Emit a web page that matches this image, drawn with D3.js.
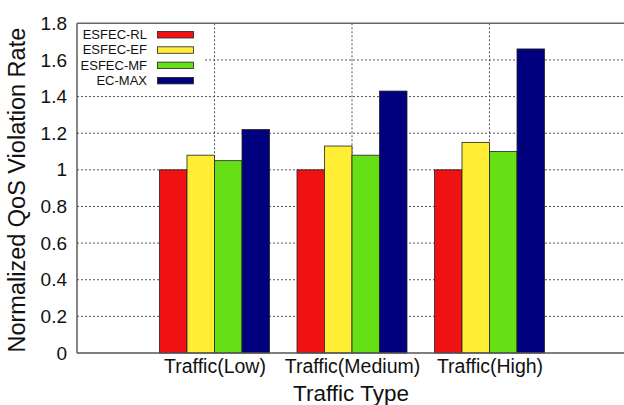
<!DOCTYPE html>
<html>
<head>
<meta charset="utf-8">
<script src="https://cdn.jsdelivr.net/npm/d3@7"></script>
<style>
  html, body { margin: 0; padding: 0; background: #fff; }
  svg { display: block; font-family: "Liberation Sans", Arial, sans-serif; }
</style>
</head>
<body>
<svg id="chart" width="624" height="405"></svg>
<script>
// Traffic categories and the normalized QoS violation rate of each scheme
const categories = ["Traffic(Low)", "Traffic(Medium)", "Traffic(High)"];
const seriesNames = ["ESFEC-RL", "ESFEC-EF", "ESFEC-MF", "EC-MAX"];
const seriesColors = ["#f01212", "#ffee33", "#66e014", "#00007f"];
const esfecRL = [1.0, 1.0, 1.0];
const esfecEF = [1.08, 1.13, 1.15];
const esfecMF = [1.05, 1.08, 1.10];
const ecMax = [1.22, 1.43, 1.66];
const yTicks = [0, 0.2, 0.4, 0.6, 0.8, 1, 1.2, 1.4, 1.6, 1.8];

const seriesValues = [esfecRL, esfecEF, esfecMF, ecMax];

const svg = d3.select("#chart");
const plotLeft = 77, plotRight = 627, plotTop = 23.3, plotBottom = 353;

// categories sit at positions 1..3 on a 0..4 axis
const x = d3.scaleLinear().domain([0, 4]).range([plotLeft, plotRight]);
const y = d3.scaleLinear().domain([0, 1.8]).range([plotBottom, plotTop]);
const barW = 0.2;

// horizontal dotted grid
svg.append("g").selectAll("line")
  .data(yTicks.filter(t => t > 0 && t < 1.8))
  .join("line")
  .attr("x1", plotLeft).attr("x2", plotRight)
  .attr("y1", d => y(d)).attr("y2", d => y(d))
  .attr("stroke", "#555").attr("stroke-width", 1)
  .attr("stroke-dasharray", "2,2");

// vertical dotted grid at each category
svg.append("g").selectAll("line")
  .data(categories)
  .join("line")
  .attr("x1", (d, i) => x(i + 1)).attr("x2", (d, i) => x(i + 1))
  .attr("y1", plotTop).attr("y2", plotBottom)
  .attr("stroke", "#555").attr("stroke-width", 1)
  .attr("stroke-dasharray", "2,2");

// bars
const bars = [];
categories.forEach((c, ci) => {
  seriesValues.forEach((vals, si) => {
    bars.push({ ci, si, v: vals[ci] });
  });
});
svg.append("g").selectAll("rect")
  .data(bars)
  .join("rect")
  .attr("x", d => x(d.ci + 1 - 0.4 + d.si * barW))
  .attr("width", d => x(barW) - x(0))
  .attr("y", d => y(d.v))
  .attr("height", d => y(0) - y(d.v))
  .attr("fill", d => seriesColors[d.si])
  .attr("stroke", "#222").attr("stroke-width", 0.8);

// legend, on a white panel in the top-left corner
const lg = svg.append("g");
lg.append("rect")
  .attr("x", plotLeft + 0.5).attr("y", plotTop + 0.5)
  .attr("width", 126).attr("height", 64)
  .attr("fill", "#fff");
seriesNames.forEach((name, i) => {
  const cy = 34.5 + i * 15.3;
  lg.append("text")
    .attr("x", 147).attr("y", cy)
    .attr("dy", "0.35em")
    .attr("text-anchor", "end")
    .attr("font-size", 13)
    .attr("fill", "#111")
    .text(name);
  lg.append("rect")
    .attr("x", 157.5).attr("y", cy - 3)
    .attr("width", 36).attr("height", 6.5)
    .attr("fill", seriesColors[i])
    .attr("stroke", "#222").attr("stroke-width", 0.8);
});

// frame
svg.append("line").attr("x1", plotLeft).attr("x2", plotLeft).attr("y1", plotTop).attr("y2", plotBottom)
  .attr("stroke", "#444").attr("stroke-width", 1.3);
svg.append("line").attr("x1", plotLeft).attr("x2", plotRight).attr("y1", plotTop).attr("y2", plotTop)
  .attr("stroke", "#666").attr("stroke-width", 1.6);
svg.append("line").attr("x1", plotLeft).attr("x2", plotRight).attr("y1", plotBottom).attr("y2", plotBottom)
  .attr("stroke", "#555").attr("stroke-width", 1.6);

// y axis tick labels
const yAxis = d3.axisLeft(y).tickValues(yTicks).tickSize(0).tickPadding(10)
  .tickFormat(d => d3.format("")(+d.toFixed(1)));
const ya = svg.append("g").attr("transform", `translate(${plotLeft},0)`).call(yAxis);
ya.select(".domain").remove();
ya.selectAll("text").attr("font-size", 19).attr("fill", "#111")
  .attr("font-family", "'Liberation Sans', Arial, sans-serif");

// x axis category labels
const xAxis = d3.axisBottom(x).tickValues([1, 2, 3]).tickSize(0).tickPadding(6)
  .tickFormat(d => categories[d - 1]);
const xa = svg.append("g").attr("transform", `translate(0,${plotBottom})`).call(xAxis);
xa.select(".domain").remove();
xa.selectAll("text").attr("font-size", 19.5).attr("fill", "#111")
  .attr("font-family", "'Liberation Sans', Arial, sans-serif");

// axis titles
svg.append("text")
  .attr("x", 351).attr("y", 401)
  .attr("text-anchor", "middle")
  .attr("font-size", 22.5).attr("fill", "#111")
  .text("Traffic Type");
svg.append("text")
  .attr("transform", `translate(25,${(plotTop + plotBottom) / 2 + 2}) rotate(-90)`)
  .attr("text-anchor", "middle")
  .attr("font-size", 23.5).attr("fill", "#111")
  .text("Normalized QoS Violation Rate");
</script>
</body>
</html>
